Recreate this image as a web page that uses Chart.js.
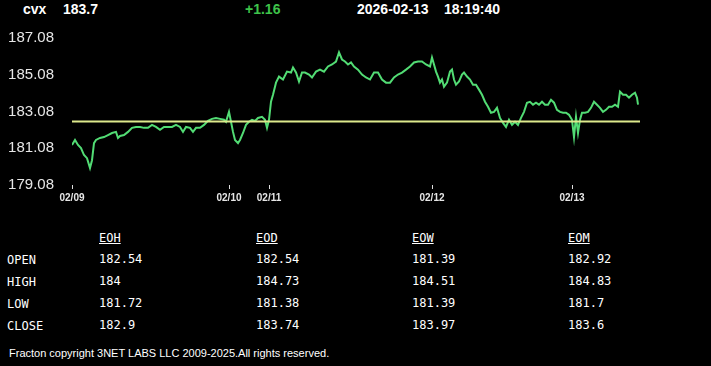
<!DOCTYPE html>
<html>
<head>
<meta charset="utf-8">
<script src="https://cdn.jsdelivr.net/npm/chart.js@4.4.1/dist/chart.umd.min.js"></script>
<style>
  body { margin: 0; background: #000; width: 711px; height: 366px; overflow: hidden; position: relative; font-family: "Liberation Sans", Arial, sans-serif; color: #fff; }
  .hd { position: absolute; top: 1px; font: bold 14px "Liberation Sans", Arial, sans-serif; line-height: 16px; color: #fff; white-space: pre; }
  #wrap { position: absolute; left: 0; top: 0; width: 711px; height: 215px; }
  .tb { position: absolute; font: 12px "DejaVu Sans Mono", monospace; line-height: 14px; color: #fff; white-space: pre; }
  .colh { text-decoration: underline; }
  #foot { position: absolute; left: 9px; top: 346px; font: 11px "Liberation Sans", Arial, sans-serif; line-height: 14px; color: #fff; }
</style>
</head>
<body>
<div class="hd" style="left:23px">cvx</div>
<div class="hd" style="left:63px">183.7</div>
<div class="hd" style="left:245px;color:#3ec34a">+1.16</div>
<div class="hd" style="left:357px">2026-02-13</div>
<div class="hd" style="left:444px">18:19:40</div>
<div id="wrap"><canvas id="chartCanvas"></canvas></div>
<div id="table"></div>
<div id="foot">Fracton copyright 3NET LABS LLC 2009-2025.All rights reserved.</div>
<script>
// intraday bars (bar index since 02/09 open) and prices
const bars = [0, 3, 6, 9, 12, 15, 18, 20, 22, 24, 28, 32, 36, 40, 44, 46, 48, 52, 56, 60,
  64, 68, 72, 76, 80, 84, 88, 92, 96, 100, 104, 108, 111, 114, 118, 121, 124, 128, 132, 136,
  140, 144, 148, 152, 154, 157, 159, 161, 163, 166, 168, 171, 174, 177, 180, 183, 186, 190, 193, 195,
  197, 199, 201, 204, 207, 211, 215, 219, 221, 224, 227, 230, 233, 237, 240, 244, 248, 252, 256, 260,
  264, 267, 270, 273, 276, 279, 282, 286, 290, 294, 298, 302, 306, 310, 314, 318, 322, 326, 330, 334,
  338, 342, 346, 350, 354, 358, 360, 362, 364, 366, 368, 370, 372, 375, 378, 380, 382, 384, 387, 390,
  392, 395, 398, 401, 404, 407, 410, 413, 416, 419, 422, 425, 428, 431, 434, 437, 440, 443, 446, 449,
  452, 455, 458, 461, 464, 467, 470, 473, 476, 479, 482, 485, 488, 491, 494, 497, 500, 502, 504, 506,
  508, 510, 513, 516, 519, 522, 525, 528, 531, 534, 537, 540, 543, 546, 548, 551, 554, 557, 560, 563,
  565, 566];
const prices = [181.26, 181.53, 181.26, 181.09, 180.71, 180.54, 180.00, 180.43, 181.36, 181.53, 181.64, 181.69, 181.80, 181.91, 181.97, 181.64, 181.75, 181.80, 181.97, 182.19,
  182.24, 182.24, 182.19, 182.19, 182.35, 182.24, 182.08, 182.24, 182.24, 182.24, 182.35, 182.24, 181.97, 182.24, 182.19, 181.97, 182.19, 182.19, 182.35, 182.57,
  182.68, 182.73, 182.68, 182.63, 182.52, 183.06, 182.52, 181.97, 181.53, 181.36, 181.53, 181.91, 182.35, 182.52, 182.63, 182.57, 182.73, 182.79, 182.63, 182.19,
  182.63, 183.61, 183.99, 184.65, 184.98, 184.82, 185.25, 185.20, 185.47, 185.20, 184.71, 185.20, 185.20, 185.09, 184.93, 185.25, 185.36, 185.25, 185.53, 185.64,
  185.80, 186.30, 185.91, 185.80, 185.64, 185.75, 185.53, 185.36, 185.09, 184.93, 184.82, 185.20, 185.20, 184.82, 184.65, 184.65, 184.93, 185.09, 185.20, 185.36,
  185.53, 185.75, 185.80, 185.80, 185.64, 185.53, 186.02, 185.64, 185.25, 184.98, 184.65, 184.82, 184.43, 184.65, 185.25, 185.36, 184.82, 184.54, 184.71, 185.09,
  185.20, 184.98, 184.82, 184.54, 184.54, 184.27, 183.99, 183.61, 183.34, 183.01, 183.06, 183.28, 182.73, 182.46, 182.24, 182.63, 182.35, 182.52, 182.35, 182.73,
  183.06, 183.56, 183.61, 183.45, 183.56, 183.45, 183.61, 183.45, 183.45, 183.72, 183.56, 183.17, 183.06, 183.01, 183.01, 182.90, 182.63, 181.69, 182.79, 181.91,
  182.63, 183.01, 183.01, 183.06, 183.28, 183.61, 183.45, 183.28, 183.06, 183.17, 183.34, 183.34, 183.45, 183.34, 184.16, 183.99, 183.99, 183.83, 183.99, 184.10,
  183.83, 183.45];
const prevClose = 182.54;
const lastBar = 568;

const dayStarts = [0, 157, 197, 360, 500];
const dayLabels = ['02/09', '02/10', '02/11', '02/12', '02/13'];
const yTicks = [179.08, 181.08, 183.08, 185.08, 187.08];

const tableCols = ['EOH', 'EOD', 'EOW', 'EOM'];
const tableRows = ['OPEN', 'HIGH', 'LOW', 'CLOSE'];
const tableVals = [
  ['182.54', '182.54', '181.39', '182.92'],
  ['184', '184.73', '184.51', '184.83'],
  ['181.72', '181.38', '181.39', '181.7'],
  ['182.9', '183.74', '183.97', '183.6']
];

// table below the chart
const tbl = document.getElementById('table');
const colX = [99, 256, 412, 568];
const rowY = [252, 274, 296, 318];
tableCols.forEach((c, i) => {
  tbl.insertAdjacentHTML('beforeend', `<div class="tb colh" style="left:${colX[i]}px;top:231px">${c}</div>`);
});
tableRows.forEach((r, j) => {
  tbl.insertAdjacentHTML('beforeend', `<div class="tb" style="left:7px;top:${rowY[j] + 1}px">${r}</div>`);
  tableVals[j].forEach((v, i) => {
    tbl.insertAdjacentHTML('beforeend', `<div class="tb" style="left:${colX[i]}px;top:${rowY[j]}px">${v}</div>`);
  });
});

const ctx = document.getElementById('chartCanvas').getContext('2d');
new Chart(ctx, {
  type: 'line',
  data: {
    datasets: [
      {
        label: 'prev close',
        data: [{ x: 0, y: prevClose }, { x: lastBar, y: prevClose }],
        borderColor: '#dde98c',
        borderWidth: 2,
        pointRadius: 0
      },
      {
        label: 'cvx',
        data: bars.map((b, i) => ({ x: b, y: prices[i] })),
        borderColor: '#52dc74',
        borderWidth: 2,
        pointRadius: 0,
        tension: 0
      }
    ]
  },
  options: {
    responsive: true,
    maintainAspectRatio: false,
    animation: false,
    layout: { padding: { top: 38, right: 71, left: 0, bottom: 0 } },
    plugins: { legend: { display: false }, tooltip: { enabled: false } },
    scales: {
      x: {
        type: 'linear',
        min: 0,
        max: lastBar,
        afterFit: s => { s.height = 30; },
        afterBuildTicks: s => { s.ticks = dayStarts.map(v => ({ value: v })); },
        ticks: {
          autoSkip: false,
          maxRotation: 0,
          padding: 3,
          color: '#e6e6e6',
          font: { family: '"Liberation Sans", Arial, sans-serif', size: 10, weight: 'bold' },
          callback: v => dayLabels[dayStarts.indexOf(v)]
        },
        grid: { drawOnChartArea: false, drawTicks: true, tickLength: 4, color: '#ddd' },
        border: { display: false }
      },
      y: {
        min: 179.08,
        max: 187.08,
        afterFit: s => { s.width = 72; },
        afterBuildTicks: s => { s.ticks = yTicks.map(v => ({ value: v })); },
        ticks: {
          padding: 10,
          color: '#e6e6e6',
          font: { family: '"Liberation Sans Narrow", "Liberation Sans", Arial, sans-serif', size: 15 },
          callback: v => v.toFixed(2)
        },
        grid: { display: false },
        border: { display: false }
      }
    }
  }
});
</script>
</body>
</html>
